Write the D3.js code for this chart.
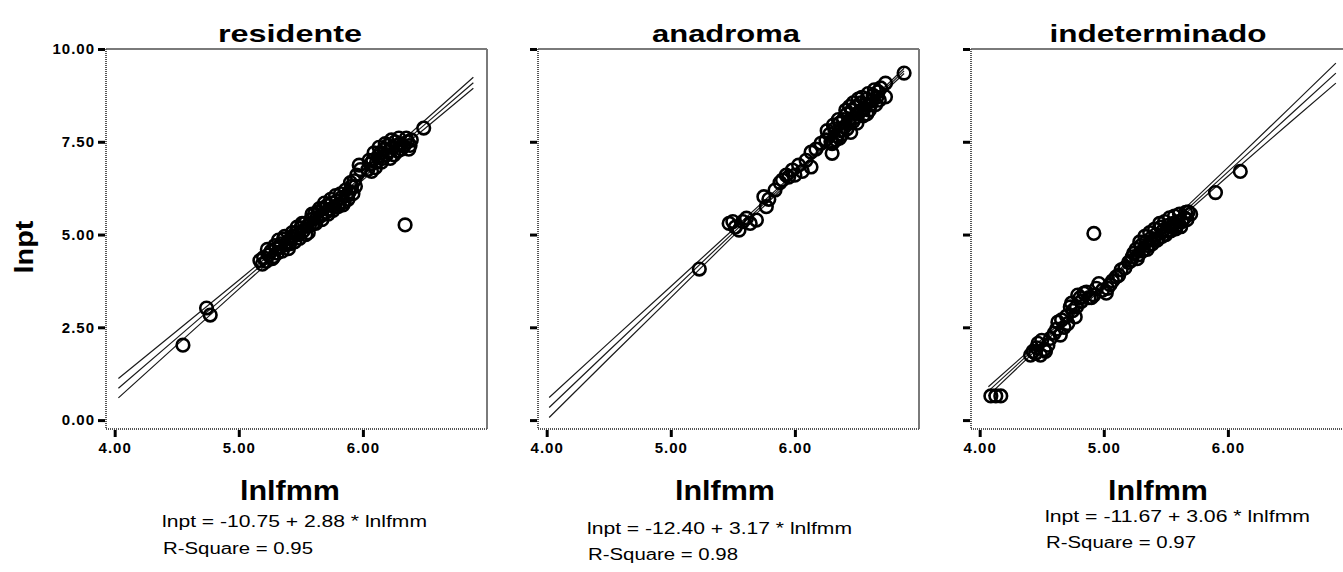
<!DOCTYPE html>
<html><head><meta charset="utf-8">
<script src="https://cdn.jsdelivr.net/npm/d3@7/dist/d3.min.js"></script>
<style>
html,body{margin:0;padding:0;background:#fff;}
svg{display:block;}
</style></head>
<body>
<svg id="chart" width="1343" height="572"></svg>
<script>
// ---------- data ----------
const panelNames = ["residente", "anadroma", "indeterminado"];
const xTickValues = [4, 5, 6];
const yTickValues = [0, 2.5, 5, 7.5, 10];
const xLabel = "lnlfmm";
const yLabel = "lnpt";
const equations = ["lnpt = -10.75 + 2.88 * lnlfmm", "lnpt = -12.40 + 3.17 * lnlfmm", "lnpt = -11.67 + 3.06 * lnlfmm"];
const rSquares = ["R-Square = 0.95", "R-Square = 0.98", "R-Square = 0.97"];

const residentePoints = [
  [4.55,2.02],[4.74,3.02],[4.77,2.83],
  [5.17,4.30],[5.20,4.38],[5.22,4.28],[5.24,4.45],[5.26,4.55],[5.28,4.40],[5.30,4.62],[5.32,4.85],[5.34,4.75],[5.36,4.88],[5.38,4.72],[5.40,4.62],[5.42,4.90],
  [5.44,4.95],[5.46,5.05],[5.48,5.00],[5.50,5.18],[5.52,5.10],[5.53,5.30],[5.55,5.22],[5.56,5.05],[5.58,5.40],[5.60,5.30],[5.61,5.55],[5.63,5.45],[5.64,5.62],[5.66,5.50],[5.68,5.70],[5.70,5.60],[5.71,5.78],[5.73,5.68],[5.75,5.85],[5.77,5.75],[5.79,5.90],[5.81,5.82],[5.83,6.00],[5.85,5.88],[5.87,6.05],[5.89,6.15],[5.91,6.30],[5.93,6.45],[5.95,6.60],[5.97,6.87],[5.98,6.75],
  [5.19,4.20],[5.23,4.60],[5.27,4.35],[5.29,4.70],[5.31,4.50],[5.33,4.65],[5.35,4.55],[5.37,4.95],[5.39,4.80],[5.41,4.75],[5.43,5.05],[5.45,4.80],[5.47,5.20],[5.49,4.90],[5.51,5.30],[5.54,5.00],[5.57,5.25],[5.59,5.55],[5.62,5.30],[5.65,5.70],[5.67,5.40],[5.69,5.85],[5.72,5.55],[5.74,5.95],[5.76,5.65],[5.78,6.05],[5.80,5.75],[5.82,6.10],[5.84,5.80],[5.86,6.20],[5.88,5.95],[5.90,6.40],[5.92,6.10],[5.94,6.30],
  [6.04,6.75],[6.06,6.90],[6.08,7.00],[6.10,6.80],[6.12,7.10],[6.14,7.20],[6.15,6.95],[6.17,7.30],[6.19,7.15],[6.20,7.40],[6.22,7.05],[6.24,7.35],[6.26,7.50],[6.28,7.25],[6.30,7.45],[6.33,7.38],[6.36,7.50],[6.38,7.40],
  [6.05,7.00],[6.07,6.70],[6.09,7.20],[6.11,6.95],[6.13,7.35],[6.16,7.05],[6.18,7.45],[6.21,7.25],[6.23,7.55],[6.25,7.15],[6.27,7.40],[6.29,7.60],[6.31,7.30],[6.35,7.60],[6.37,7.30],[6.39,7.55],
  [6.34,5.26],[6.49,7.87]
];
const anadromaPoints = [
  [5.23,4.07],[5.47,5.30],[5.50,5.35],[5.52,5.20],[5.55,5.12],[5.58,5.35],[5.61,5.44],[5.64,5.30],[5.69,5.39],[5.75,6.02],[5.77,5.75],[5.79,5.95],[5.84,6.20],[5.88,6.40],[5.90,6.47],[5.93,6.60],[5.95,6.55],[5.98,6.74],[6.00,6.60],[6.03,6.87],[6.06,6.70],[6.09,7.00],[6.13,6.82],[6.13,7.22],[6.17,7.30],[6.21,7.46],[6.30,7.19],
  [6.25,7.55],[6.28,7.70],[6.30,7.45],[6.32,7.85],[6.34,7.65],[6.36,8.00],[6.37,7.80],[6.39,8.10],[6.40,7.90],[6.42,8.25],[6.43,8.05],[6.45,7.75],[6.46,8.35],[6.48,8.15],[6.49,8.45],[6.50,8.00],[6.52,8.30],[6.53,8.55],[6.55,8.20],[6.56,8.40],[6.58,8.65],[6.60,8.35],[6.62,8.60],[6.63,8.75],[6.65,8.50],[6.67,8.85],[6.68,8.62],
  [6.26,7.80],[6.29,7.50],[6.31,7.95],[6.33,7.55],[6.35,8.10],[6.38,7.70],[6.41,8.35],[6.44,8.00],[6.44,8.45],[6.47,8.05],[6.47,8.55],[6.50,8.25],[6.51,8.65],[6.54,8.35],[6.54,8.70],[6.57,8.50],[6.59,8.80],[6.61,8.50],[6.64,8.90],[6.66,8.70],[6.69,8.95],[6.36,7.60],[6.42,7.85],[6.58,8.25],
  [6.73,9.08],[6.73,8.71],[6.88,9.35]
];
const indeterminadoPoints = [
  [4.09,0.65],[4.13,0.65],[4.17,0.65],[4.41,1.75],[4.45,1.80],[4.47,2.07],[4.49,1.75],[4.52,1.90],[4.55,2.02],[4.60,2.34],[4.63,2.64],[4.65,2.29],[4.68,2.50],[4.70,2.80],[4.73,3.05],[4.75,2.95],[4.77,2.78],[4.79,3.37],[4.82,3.20],[4.84,3.42],[4.88,3.30],[4.92,3.37],[4.96,3.68],[4.99,3.50],[5.02,3.42],[5.03,3.55],[5.07,3.75],[5.10,3.86],
  [4.43,1.85],[4.46,1.95],[4.50,2.15],[4.53,1.85],[4.57,2.20],[4.62,2.45],[4.66,2.70],[4.71,2.60],[4.74,3.15],[4.78,3.05],[4.81,3.30],[4.86,3.45],[4.90,3.30],[4.94,3.55],[5.05,3.65],[5.12,3.90],[5.14,4.05],[5.17,4.10],[5.20,4.25],
  [4.92,5.03],
  [5.22,4.30],[5.24,4.49],[5.26,4.60],[5.28,4.45],[5.30,4.70],[5.32,4.58],[5.34,4.80],[5.36,4.70],[5.38,4.90],[5.40,4.85],[5.42,5.00],[5.44,4.90],[5.46,5.20],[5.48,5.12],[5.50,5.00],[5.52,5.25],[5.54,5.10],[5.56,5.30],[5.58,5.15],[5.60,5.35],[5.62,5.21],[5.65,5.45],[5.68,5.61],
  [5.23,4.40],[5.27,4.35],[5.29,4.80],[5.31,4.55],[5.33,4.95],[5.35,4.60],[5.37,5.05],[5.39,4.75],[5.41,5.15],[5.43,4.85],[5.45,5.30],[5.47,4.95],[5.49,5.35],[5.51,5.10],[5.53,5.45],[5.55,5.20],[5.57,5.50],[5.59,5.25],[5.61,5.55],[5.63,5.35],[5.66,5.60],[5.67,5.40],[5.70,5.55],
  [5.90,6.13],[6.10,6.70]
];

// fit line and confidence band values, read at a few x positions
const residenteBandX   = [4.03, 4.5, 5.0, 5.5, 5.8, 6.2, 6.5, 6.89];
const residenteFit     = [0.86, 2.21, 3.65, 5.09, 5.95, 7.11, 7.97, 9.09];
const residenteUpper   = [1.12, 2.40, 3.77, 5.15, 6.00, 7.18, 8.08, 9.24];
const residenteLower   = [0.60, 2.02, 3.53, 5.03, 5.90, 7.04, 7.86, 8.94];
const anadromaBandX    = [4.02, 4.5, 5.0, 5.5, 6.0, 6.4, 6.88];
const anadromaFit      = [0.34, 1.87, 3.45, 5.04, 6.62, 7.89, 9.41];
const anadromaUpper    = [0.61, 2.08, 3.60, 5.13, 6.67, 7.93, 9.48];
const anadromaLower    = [0.07, 1.66, 3.30, 4.95, 6.57, 7.85, 9.34];
const indeterminadoBandX  = [4.07, 4.5, 5.0, 5.5, 6.0, 6.5, 6.87];
const indeterminadoFit    = [0.78, 2.10, 3.63, 5.16, 6.69, 8.22, 9.35];
const indeterminadoUpper  = [0.90, 2.17, 3.67, 5.22, 6.81, 8.42, 9.62];
const indeterminadoLower  = [0.66, 2.03, 3.59, 5.10, 6.57, 8.02, 9.08];

// ---------- layout ----------
const svg = d3.select("#chart");
const panelLeft = [106, 538, 971];
const plotW = 381, plotTop = 49, plotBottom = 429;
const titleCX = [290, 726, 1158], titleLen = [144, 148, 217];
const xLabCX = [290, 725, 1158];
const eqX = [162, 587, 1045], eqY = [527, 534, 522], rY = [554, 560, 548];

const pointsBy = [residentePoints, anadromaPoints, indeterminadoPoints];
const bandsBy = [
  [residenteBandX, residenteUpper, residenteFit, residenteLower],
  [anadromaBandX, anadromaUpper, anadromaFit, anadromaLower],
  [indeterminadoBandX, indeterminadoUpper, indeterminadoFit, indeterminadoLower]
];

const y = d3.scaleLinear().domain([-0.24, 10]).range([plotBottom, plotTop]);
const fontMain = "'Liberation Sans', Arial, sans-serif";

panelNames.forEach((name, i) => {
  const L = panelLeft[i];
  const x = d3.scaleLinear().domain([3.93, 7.0]).range([L, L + plotW]);
  const g = svg.append("g");

  // regression + confidence lines
  const [bx, ...lines] = bandsBy[i];
  const lineGen = d3.line().x(d => x(d[0])).y(d => y(d[1]));
  lines.forEach(vals => {
    g.append("path")
      .attr("d", lineGen(bx.map((v, k) => [v, vals[k]])))
      .attr("fill", "none").attr("stroke", "#1a1a1a").attr("stroke-width", 1.2);
  });

  // points
  g.selectAll("circle.pt").data(pointsBy[i]).enter().append("circle")
    .attr("class", "pt")
    .attr("cx", d => x(d[0])).attr("cy", d => y(d[1])).attr("r", 6.3)
    .attr("fill", "none").attr("stroke", "#000").attr("stroke-width", 2.6);

  // frame: top and right solid gray, left and bottom dotted
  g.append("line").attr("x1", L).attr("x2", L + plotW).attr("y1", plotTop).attr("y2", plotTop)
    .attr("stroke", "#7a7a7a").attr("stroke-width", 2);
  g.append("line").attr("x1", L + plotW).attr("x2", L + plotW).attr("y1", plotTop).attr("y2", plotBottom)
    .attr("stroke", "#7a7a7a").attr("stroke-width", 2);
  g.append("line").attr("x1", L).attr("x2", L).attr("y1", plotTop).attr("y2", plotBottom)
    .attr("stroke", "#555").attr("stroke-width", 2).attr("stroke-dasharray", "1,1");
  g.append("line").attr("x1", L).attr("x2", L + plotW).attr("y1", plotBottom).attr("y2", plotBottom)
    .attr("stroke", "#555").attr("stroke-width", 2).attr("stroke-dasharray", "1,1");

  // y axis
  const yAxis = d3.axisLeft(y).tickValues(yTickValues).tickSize(7).tickPadding(3)
    .tickFormat(i === 0 ? d3.format(".2f") : () => "");
  const ya = svg.append("g").attr("transform", `translate(${L - 1},0)`).call(yAxis);
  ya.select(".domain").remove();
  ya.selectAll(".tick line").attr("stroke", "#000").attr("stroke-width", 3);
  ya.selectAll(".tick text").attr("font-family", fontMain).attr("font-weight", "bold")
    .attr("font-size", 15).attr("letter-spacing", "1px").attr("fill", "#000");

  // x axis
  const xAxis = d3.axisBottom(x).tickValues(xTickValues).tickSize(7).tickPadding(5).tickFormat(d3.format(".2f"));
  const xa = svg.append("g").attr("transform", `translate(0,${plotBottom + 1})`).call(xAxis);
  xa.select(".domain").remove();
  xa.selectAll(".tick line").attr("stroke", "#000").attr("stroke-width", 3);
  xa.selectAll(".tick text").attr("font-family", fontMain).attr("font-weight", "bold")
    .attr("font-size", 15).attr("letter-spacing", "1px").attr("fill", "#000");

  // title
  svg.append("text").attr("x", titleCX[i]).attr("y", 42).attr("text-anchor", "middle")
    .attr("font-family", fontMain).attr("font-weight", "bold").attr("font-size", 24)
    .attr("textLength", titleLen[i]).attr("lengthAdjust", "spacingAndGlyphs").text(name);

  // x label
  svg.append("text").attr("x", xLabCX[i]).attr("y", 500).attr("text-anchor", "middle")
    .attr("font-family", fontMain).attr("font-weight", "bold").attr("font-size", 28)
    .attr("textLength", 100).attr("lengthAdjust", "spacingAndGlyphs").text(xLabel);

  // equation
  svg.append("text").attr("x", eqX[i]).attr("y", eqY[i])
    .attr("font-family", fontMain).attr("font-size", 16)
    .attr("textLength", 265).attr("lengthAdjust", "spacingAndGlyphs").text(equations[i]);
  svg.append("text").attr("x", eqX[i] + 1).attr("y", rY[i])
    .attr("font-family", fontMain).attr("font-size", 16)
    .attr("textLength", 150).attr("lengthAdjust", "spacingAndGlyphs").text(rSquares[i]);
});

// y label
svg.append("text").attr("transform", "translate(33,247) rotate(-90)").attr("text-anchor", "middle")
  .attr("font-family", fontMain).attr("font-weight", "bold").attr("font-size", 26)
  .attr("textLength", 53).attr("lengthAdjust", "spacingAndGlyphs").text(yLabel);
</script>
</body></html>
